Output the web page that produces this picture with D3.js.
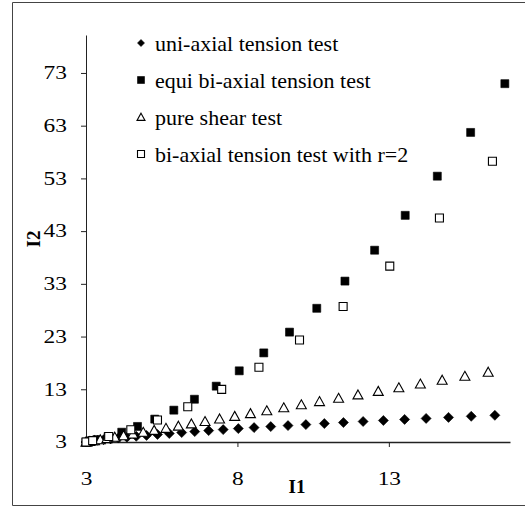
<!DOCTYPE html>
<html>
<head>
<meta charset="utf-8">
<script src="https://cdn.jsdelivr.net/npm/d3@7/dist/d3.min.js"></script>
<style>
    body { margin: 0; background: #fff; }
    text { font-family: "Liberation Serif", "Times New Roman", serif; fill: #000; }
</style>
</head>
<body>
<div id="chart"></div>
<script>
const width = 525;
const height = 506;

const seriesNames = [
    'uni-axial tension test',
    'equi bi-axial tension test',
    'pure shear test',
    'bi-axial tension test with r=2'
];

// uni-axial tension
const uniI1 = [3.00, 3.03, 3.11, 3.23, 3.39, 3.58, 3.81, 4.07, 4.35, 4.66, 5.00, 5.36, 5.75, 6.16, 6.59, 7.05,
    7.53, 8.03, 8.55, 9.10, 9.67, 10.26, 10.87, 11.50, 12.15, 12.82, 13.52, 14.23, 14.97, 15.72, 16.50];
const uniI2 = [3.00, 3.03, 3.09, 3.19, 3.31, 3.44, 3.59, 3.75, 3.91, 4.08, 4.25, 4.43, 4.61, 4.79, 4.97, 5.16,
    5.35, 5.54, 5.73, 5.92, 6.11, 6.30, 6.50, 6.69, 6.89, 7.08, 7.28, 7.47, 7.67, 7.87, 8.06];

// equi bi-axial tension
const equiI1 = [3.00, 3.10, 3.36, 3.73, 4.18, 4.70, 5.27, 5.90, 6.58, 7.30, 8.06, 8.87, 9.72, 10.62, 11.55,
    12.53, 13.54, 14.60, 15.70, 16.83];
const equiI2 = [3.00, 3.12, 3.46, 4.04, 4.86, 5.95, 7.34, 9.04, 11.11, 13.59, 16.50, 19.90, 23.84, 28.36, 33.52,
    39.38, 45.99, 53.42, 61.72, 70.97];

// pure shear (I1 = I2)
const shearI1 = [3.00, 3.04, 3.13, 3.28, 3.47, 3.69, 3.95, 4.24, 4.55, 4.89, 5.25, 5.64, 6.05, 6.48, 6.93, 7.41,
    7.91, 8.43, 8.97, 9.53, 10.11, 10.71, 11.34, 11.98, 12.65, 13.33, 14.04, 14.76, 15.51, 16.28];
const shearI2 = shearI1.slice();

// bi-axial tension, r = 2
const biI1 = [3.00, 3.22, 3.75, 4.48, 5.36, 6.36, 7.48, 8.71, 10.05, 11.49, 13.03, 14.67, 16.42];
const biI2 = [3.00, 3.26, 4.03, 5.31, 7.17, 9.69, 12.99, 17.17, 22.36, 28.70, 36.36, 45.48, 56.25];

const xTicks = [3, 8, 13];
const yTicks = [3, 13, 23, 33, 43, 53, 63, 73];

const series = [
    { name: seriesNames[0], shape: 'diamond', xs: uniI1, ys: uniI2 },
    { name: seriesNames[1], shape: 'square', xs: equiI1, ys: equiI2 },
    { name: seriesNames[2], shape: 'triangle', xs: shearI1, ys: shearI2 },
    { name: seriesNames[3], shape: 'openSquare', xs: biI1, ys: biI2 }
];

const svg = d3
    .select('#chart')
    .append('svg')
    .attr('width', width)
    .attr('height', height);

// outer frame (right side runs off the page)
svg.append('path')
    .attr('d', `M530,2.5 H12.5 V505.5 H530`)
    .attr('fill', 'none')
    .attr('stroke', '#444')
    .attr('stroke-width', 1);

const xScale = d3.scaleLinear().domain([3, 17]).range([86, 510]);
const yScale = d3.scaleLinear().domain([3, 80.2]).range([442, 35]);

// marker paths, centred at 0,0
function markerPath(shape, s) {
    const h = s / 2;
    if (shape === 'diamond') return `M0,${-h}L${h},0L0,${h}L${-h},0Z`;
    if (shape === 'triangle') return `M0,${-h * 0.95}L${h},${h * 0.85}L${-h},${h * 0.85}Z`;
    return `M${-h},${-h}H${h}V${h}H${-h}Z`;
}

function styleMarker(sel, shape) {
    const hollow = shape === 'triangle' || shape === 'openSquare';
    sel.attr('fill', hollow ? '#fff' : '#000')
        .attr('stroke', '#000')
        .attr('stroke-width', hollow ? 1.1 : 0.6);
}

const markerSize = { diamond: 10, square: 8, triangle: 10, openSquare: 8 };

// Y axis
const yAxis = svg.append('g')
    .attr('class', 'y-axis')
    .attr('transform', `translate(${xScale.range()[0]}, 0)`)
    .call(d3.axisLeft(yScale).tickValues(yTicks).tickSize(5).tickSizeOuter(0).tickPadding(14));

// X axis
const xAxis = svg.append('g')
    .attr('class', 'x-axis')
    .attr('transform', `translate(0, ${yScale.range()[0]})`)
    .call(d3.axisBottom(xScale).tickValues(xTicks).tickSize(5).tickSizeOuter(0).tickPadding(25));

svg.selectAll('.domain').attr('stroke', '#222');
yAxis.select('.domain').attr('stroke-width', 1);
xAxis.select('.domain').attr('stroke-width', 1.6);
svg.selectAll('.tick line').attr('stroke', '#222');

// tick labels are drawn wide
svg.selectAll('.tick text')
    .attr('font-size', 18)
    .attr('font-family', '"Liberation Serif", serif')
    .attr('fill', '#000');
yAxis.selectAll('.tick text')
    .attr('x', 0)
    .attr('transform', 'translate(-19,0) scale(1.3,1)');
xAxis.selectAll('.tick text')
    .attr('transform', 'scale(1.3,1)');

// axis titles
svg.append('text')
    .attr('x', 297)
    .attr('y', 493)
    .attr('text-anchor', 'middle')
    .attr('font-size', 19)
    .attr('font-weight', 'bold')
    .text('I1');

svg.append('text')
    .attr('transform', 'translate(40, 239) rotate(-90)')
    .attr('text-anchor', 'middle')
    .attr('font-size', 19)
    .attr('font-weight', 'bold')
    .text('I2');

// points, one group per series
series.forEach((s) => {
    const pts = s.xs.map((x, i) => [x, s.ys[i]]);
    svg.append('g')
        .attr('class', 'dots')
        .selectAll('path')
        .data(pts)
        .join('path')
        .attr('d', markerPath(s.shape, markerSize[s.shape]))
        .attr('transform', (d) => `translate(${xScale(d[0])}, ${yScale(d[1])})`)
        .call(styleMarker, s.shape);
});

// legend
const legend = svg.append('g').attr('class', 'legend');
const legendRow = legend.selectAll('g')
    .data(series)
    .join('g')
    .attr('transform', (d, i) => `translate(141, ${43 + i * 37})`);

legendRow.append('path')
    .attr('d', (d) => markerPath(d.shape, d.shape === 'triangle' ? 8 : 7))
    .each(function (d) { d3.select(this).call(styleMarker, d.shape); });

legendRow.append('text')
    .attr('x', 14)
    .attr('y', 7.5)
    .attr('font-size', 22)
    .text((d) => d.name);
</script>
</body>
</html>
